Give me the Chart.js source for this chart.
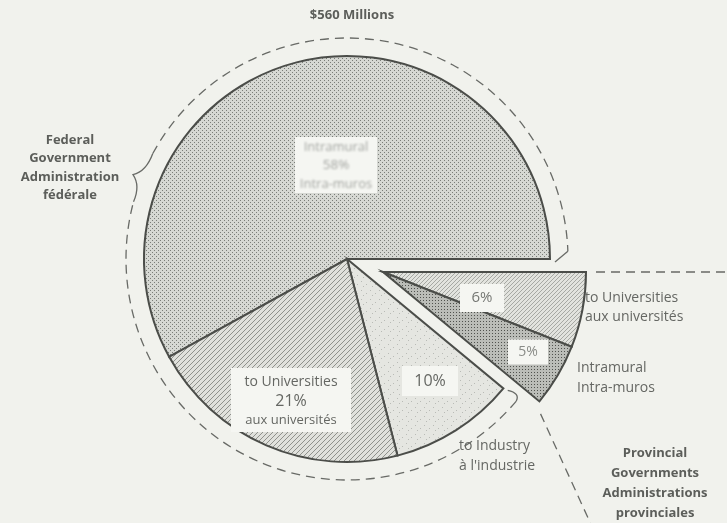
<!DOCTYPE html>
<html>
<head>
<meta charset="utf-8">
<script src="https://cdn.jsdelivr.net/npm/chart.js@4/dist/chart.umd.min.js"></script>
<style>
  html, body { margin: 0; padding: 0; background: #f1f2ed; }
  #wrap { position: relative; width: 727px; height: 523px; }
</style>
</head>
<body>
<div id="wrap"><canvas id="rd" width="727" height="523"></canvas></div>
<script>
// Research & development spending, $560 million, by source and performer
const chartTitle = '$560 Millions';
const categories = ['Intramural', 'to Universities', 'Intramural', 'to Industry', 'to Universities'];
const categoriesFr = ['Intra-muros', 'aux universités', 'Intra-muros', "à l'industrie", 'aux universités'];
const shares = [58, 6, 5, 10, 21];
const governments = ['federal', 'provincial', 'provincial', 'federal', 'federal'];
const federalLabel = ['Federal', 'Government', 'Administration', 'fédérale'];
const provincialLabel = ['Provincial', 'Governments', 'Administrations', 'provinciales'];

const canvas = document.getElementById('rd');
const ctx = canvas.getContext('2d');

// ---- fill textures -------------------------------------------------------
function tile(size, base, paint) {
  const c = document.createElement('canvas');
  c.width = size; c.height = size;
  const g = c.getContext('2d');
  g.fillStyle = base; g.fillRect(0, 0, size, size);
  paint(g, size);
  return ctx.createPattern(c, 'repeat');
}
const stipple = tile(4, '#d6d8d3', (g) => {
  g.fillStyle = '#7a7d78';
  g.fillRect(0, 0, 1, 1); g.fillRect(2, 2, 1, 1);
});
const hatchDark = tile(5, '#e0e1dc', (g, s) => {
  g.fillStyle = '#8f918c';
  for (let i = 0; i < s; i++) g.fillRect(i, s - 1 - i, 1, 1);
});
const speckle = tile(9, '#e5e6e1', (g) => {
  g.fillStyle = '#b9bbb6';
  g.fillRect(1, 2, 1, 1); g.fillRect(6, 5, 1, 1); g.fillRect(3, 7, 1, 1);
});
const hatchLight = tile(4, '#e2e3de', (g, s) => {
  g.fillStyle = '#a6a8a3';
  for (let i = 0; i < s; i++) g.fillRect(i, s - 1 - i, 1, 1);
});
const denseDots = tile(3, '#bbbdb8', (g) => {
  g.fillStyle = '#50524e';
  g.fillRect(0, 0, 1, 1);
});
const fills = [stipple, hatchLight, denseDots, speckle, hatchDark];

const rad = (d) => d * Math.PI / 180;
const polar = (x, y, r, deg) => [x + r * Math.cos(rad(deg)), y + r * Math.sin(rad(deg))];

// Pull the provincial slices out of the pie as one block
const provincialShift = {
  id: 'provincialShift',
  afterDatasetsUpdate(chart) {
    const meta = chart.getDatasetMeta(0);
    meta.data.forEach((arc, i) => {
      if (governments[i] === 'provincial') { arc.x += 36; arc.y += 13; }
    });
  }
};

function boxedText(c, cx, cy, w, h, lines, opts) {
  c.save();
  c.fillStyle = opts.box || '#f5f6f2';
  c.fillRect(cx - w / 2, cy - h / 2, w, h);
  if (opts.blur) c.filter = 'blur(' + opts.blur + 'px)';
  c.fillStyle = opts.color || '#646662';
  c.textAlign = 'center';
  c.textBaseline = 'middle';
  lines.forEach((ln) => {
    c.font = ln.font;
    c.fillText(ln.text, cx, cy + ln.dy);
  });
  c.restore();
}

function textBlock(c, x, y, lines, step, font, align, color) {
  c.save();
  c.font = font;
  c.fillStyle = color;
  c.textAlign = align;
  c.textBaseline = 'middle';
  lines.forEach((t, i) => c.fillText(t, x, y + i * step));
  c.restore();
}

// Titles, slice labels, brace and dashed group outlines
const annotations = {
  id: 'annotations',
  afterDatasetsDraw(chart) {
    const c = chart.ctx;
    const meta = chart.getDatasetMeta(0);
    const fed = meta.data[0];
    const prov = meta.data[1];
    const cx = fed.x, cy = fed.y, r = fed.outerRadius;
    const px = prov.x, py = prov.y;
    const R = r + 18;
    const face = '"Open Sans", "DejaVu Sans", sans-serif';

    // dashed outline of the federal share, broken by a brace
    c.save();
    c.strokeStyle = '#686a66';
    c.lineWidth = 1.3;
    c.setLineDash([9, 6]);
    c.beginPath(); c.arc(cx, cy, R, rad(40), rad(195)); c.stroke();
    c.beginPath(); c.arc(cx, cy, R, rad(208.5), rad(358)); c.stroke();
    // provincial outline: horizontal and slanted dashes
    c.beginPath(); c.moveTo(px + r + 10, py); c.lineTo(chart.width, py); c.stroke();
    const [sx, sy] = polar(px, py, r + 9, 42);
    c.beginPath(); c.moveTo(sx, sy); c.lineTo(sx + 52, sy + 114); c.stroke();
    c.setLineDash([]);
    // brace
    const a = polar(cx, cy, R, 195), m = polar(cx, cy, R + 9, 201.5), b = polar(cx, cy, R, 208.5);
    const q1 = polar(cx, cy, R - 2, 199.5), q2 = polar(cx, cy, R - 2, 203.5);
    c.beginPath();
    c.moveTo(a[0], a[1]);
    c.quadraticCurveTo(q1[0], q1[1], m[0], m[1]);
    c.quadraticCurveTo(q2[0], q2[1], b[0], b[1]);
    c.stroke();
    // small hooks closing the federal outline
    const e1 = polar(cx, cy, R, 358);
    c.beginPath(); c.moveTo(e1[0], e1[1]); c.lineTo(cx + r + 5, cy + 3); c.stroke();
    const e2 = polar(cx, cy, R, 40), k2 = polar(cx, cy, r + 3, 39.6);
    c.beginPath(); c.moveTo(e2[0], e2[1]);
    c.quadraticCurveTo(e2[0] + 4, e2[1] - 8, k2[0] + 2, k2[1]); c.stroke();
    c.restore();

    // title
    textBlock(c, cx + 5, 15, [chartTitle], 0, 'bold 13px ' + face, 'center', '#5c5e5a');

    // labels inside the slices
    boxedText(c, cx - 11, cy - 94, 82, 56, [
      { text: categories[0], dy: -18, font: '13px ' + face },
      { text: shares[0] + '%', dy: 0, font: '13.5px ' + face },
      { text: categoriesFr[0], dy: 19, font: '13px ' + face }
    ], { color: '#a3a5a1', blur: 0.8 });
    boxedText(c, cx - 56, cy + 141, 120, 64, [
      { text: categories[4], dy: -18, font: '14px ' + face },
      { text: shares[4] + '%', dy: 1, font: '16px ' + face },
      { text: categoriesFr[4], dy: 20, font: '13px ' + face }
    ], { color: '#656763' });
    boxedText(c, cx + 83, cy + 122, 56, 30, [
      { text: shares[3] + '%', dy: 0, font: '16px ' + face }
    ], { color: '#656763' });
    boxedText(c, px + 99, py + 26, 44, 28, [
      { text: shares[1] + '%', dy: 0, font: '15px ' + face }
    ], { color: '#757773' });
    boxedText(c, px + 145, py + 80, 40, 25, [
      { text: shares[2] + '%', dy: 0, font: '14px ' + face }
    ], { color: '#8a8c88', blur: 0.4 });

    // labels outside the pie
    const small = '14px ' + face;
    const grey = '#656763';
    textBlock(c, px + 202, py + 26, [categories[1], categoriesFr[1]], 19, small, 'left', grey);
    textBlock(c, px + 194, py + 96, [categories[2], categoriesFr[2]], 20, small, 'left', grey);
    textBlock(c, cx + 112, cy + 187, [categories[3], categoriesFr[3]], 20, small, 'left', grey);

    // group names
    const bold = 'bold 13px ' + face;
    textBlock(c, 70, 140, federalLabel, 18.5, bold, 'center', '#5c5e5a');
    textBlock(c, 655, 453, provincialLabel, 20, bold, 'center', '#5c5e5a');
  }
};

new Chart(ctx, {
  type: 'pie',
  data: {
    labels: categories,
    datasets: [{
      data: shares,
      backgroundColor: fills,
      borderColor: '#4b4d49',
      borderWidth: 2,
      borderJoinStyle: 'miter',
      radius: 203
    }]
  },
  options: {
    responsive: false,
    animation: false,
    events: [],
    rotation: 90 - shares[0] * 3.6,
    layout: { padding: { left: 0, right: 33, top: 0, bottom: 5 } },
    plugins: {
      legend: { display: false },
      tooltip: { enabled: false },
      title: { display: false }
    }
  },
  plugins: [provincialShift, annotations]
});
</script>
</body>
</html>
